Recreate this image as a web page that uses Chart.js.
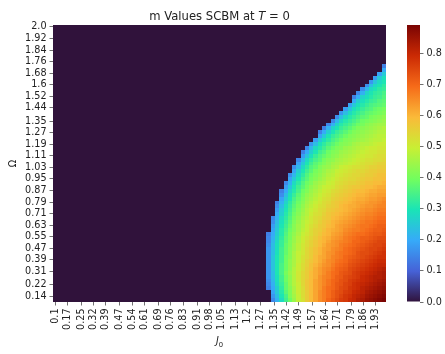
<!DOCTYPE html>
<html>
<head>
<meta charset="utf-8">
<script src="https://cdn.jsdelivr.net/npm/chart.js@4.4.1/dist/chart.umd.min.js"></script>
<style>
  body { margin: 0; background: #fff; }
  #wrap { position: relative; width: 445px; height: 354px; }
  #wrap canvas { position: absolute; top: 0; }
</style>
</head>
<body>
<div id="wrap">
  <canvas id="heatChart" width="445" height="354" style="left:0"></canvas>
  <canvas id="cbarChart" width="45" height="354" style="left:400px"></canvas>
</div>
<script>
// --- tick labels ---
const j0Ticks = ['0.1', '0.17', '0.25', '0.32', '0.39', '0.47', '0.54', '0.61', '0.69', '0.76', '0.83', '0.91', '0.98',
                 '1.05', '1.13', '1.2', '1.27', '1.35', '1.42', '1.49', '1.57', '1.64', '1.71', '1.79', '1.86', '1.93'];
const omegaTicks = ['2.0', '1.92', '1.84', '1.76', '1.68', '1.6', '1.52', '1.44', '1.35', '1.27', '1.19', '1.11',
                    '1.03', '0.95', '0.87', '0.79', '0.71', '0.63', '0.55', '0.47', '0.39', '0.31', '0.22', '0.14'];
const cbTicks = ['0.0', '0.1', '0.2', '0.3', '0.4', '0.5', '0.6', '0.7', '0.8'];

// grid extent (cell edges) in J0 and Omega: 78 x 71 cells
const j0Range = [0.0878, 1.9879];
const omegaRange = [0.0993, 2.0135];
const nCols = 78;

// m values, one row per Omega step from the top (Omega = 2.0) down.
// rowStart = first non-zero column, everything left of it is m = 0
const rowStart = [78, 78, 78, 78, 78, 78, 78, 78, 78, 78,
                  77, 77, 76, 75, 74, 73, 72, 71, 70, 70, 69, 68, 67, 66, 65, 64, 63, 62, 62, 61,
                  60, 59, 58, 58, 57, 57, 56, 56, 55, 55, 54, 54, 53, 53, 53, 52, 52, 52, 52, 51,
                  51, 51, 51, 50, 50, 50, 50, 50, 50, 50, 50, 50, 50, 50, 50, 50, 50, 50, 51, 51, 51];
const rowValues = [
  [], [], [], [], [], [], [], [], [], [],
  [0.14],
  [0.20],
  [0.19, 0.25],
  [0.18, 0.25, 0.29],
  [0.17, 0.24, 0.28, 0.30],
  [0.16, 0.23, 0.28, 0.30, 0.32],
  [0.16, 0.22, 0.28, 0.30, 0.32, 0.33],
  [0.15, 0.21, 0.27, 0.30, 0.32, 0.33, 0.35],
  [0.14, 0.20, 0.27, 0.29, 0.31, 0.33, 0.34, 0.36],
  [0.20, 0.26, 0.29, 0.31, 0.33, 0.34, 0.36, 0.37],
  [0.19, 0.25, 0.29, 0.31, 0.33, 0.35, 0.36, 0.37, 0.38],
  [0.18, 0.24, 0.29, 0.31, 0.33, 0.35, 0.36, 0.38, 0.39, 0.40],
  [0.17, 0.23, 0.28, 0.31, 0.33, 0.35, 0.37, 0.38, 0.39, 0.40, 0.41],
  [0.16, 0.23, 0.28, 0.31, 0.33, 0.35, 0.37, 0.38, 0.40, 0.41, 0.42, 0.43],
  [0.15, 0.22, 0.28, 0.31, 0.33, 0.35, 0.37, 0.39, 0.40, 0.41, 0.42, 0.43, 0.44],
  [0.15, 0.21, 0.27, 0.31, 0.33, 0.35, 0.37, 0.39, 0.40, 0.42, 0.43, 0.44, 0.45, 0.45],
  [0.14, 0.21, 0.27, 0.30, 0.33, 0.35, 0.37, 0.39, 0.41, 0.42, 0.43, 0.44, 0.45, 0.46, 0.47],
  [0.14, 0.20, 0.26, 0.30, 0.33, 0.35, 0.37, 0.39, 0.41, 0.42, 0.43, 0.44, 0.45, 0.46, 0.47, 0.47],
  [0.19, 0.25, 0.30, 0.33, 0.35, 0.37, 0.39, 0.41, 0.42, 0.43, 0.44, 0.45, 0.46, 0.47, 0.48, 0.48],
  [0.18, 0.25, 0.29, 0.32, 0.35, 0.37, 0.39, 0.41, 0.42, 0.43, 0.44, 0.45, 0.46, 0.47, 0.48, 0.48, 0.49],
  [0.17, 0.23, 0.29, 0.32, 0.35, 0.37, 0.39, 0.41, 0.42, 0.43, 0.45, 0.46, 0.47, 0.47, 0.48, 0.49, 0.50, 0.50],
  [0.15, 0.22, 0.28, 0.31, 0.34, 0.37, 0.39, 0.41, 0.42, 0.44, 0.45, 0.46, 0.47, 0.48, 0.49, 0.50, 0.50, 0.51, 0.51],
  [0.14, 0.20, 0.26, 0.30, 0.34, 0.36, 0.39, 0.41, 0.42, 0.44, 0.45, 0.46, 0.47, 0.48, 0.49, 0.50, 0.51, 0.51, 0.52, 0.52],
  [0.18, 0.24, 0.29, 0.33, 0.36, 0.38, 0.40, 0.42, 0.43, 0.45, 0.46, 0.47, 0.48, 0.49, 0.50, 0.51, 0.51, 0.52, 0.53, 0.53],
  [0.15, 0.22, 0.28, 0.32, 0.35, 0.37, 0.40, 0.42, 0.43, 0.45, 0.46, 0.47, 0.48, 0.49, 0.50, 0.51, 0.52, 0.52, 0.53, 0.53, 0.54],
  [0.19, 0.25, 0.30, 0.34, 0.37, 0.39, 0.41, 0.43, 0.45, 0.46, 0.47, 0.48, 0.49, 0.50, 0.51, 0.52, 0.53, 0.53, 0.54, 0.55, 0.55],
  [0.16, 0.22, 0.28, 0.32, 0.36, 0.38, 0.41, 0.43, 0.44, 0.46, 0.47, 0.49, 0.50, 0.51, 0.52, 0.52, 0.53, 0.54, 0.55, 0.55, 0.56, 0.56],
  [0.19, 0.26, 0.30, 0.34, 0.37, 0.40, 0.42, 0.44, 0.46, 0.47, 0.49, 0.50, 0.51, 0.52, 0.53, 0.54, 0.54, 0.55, 0.56, 0.56, 0.57, 0.57],
  [0.16, 0.22, 0.28, 0.32, 0.36, 0.39, 0.41, 0.43, 0.45, 0.47, 0.48, 0.50, 0.51, 0.52, 0.53, 0.54, 0.54, 0.55, 0.56, 0.56, 0.57, 0.58, 0.58],
  [0.19, 0.25, 0.30, 0.34, 0.37, 0.40, 0.42, 0.44, 0.46, 0.48, 0.49, 0.51, 0.52, 0.53, 0.54, 0.54, 0.55, 0.56, 0.57, 0.57, 0.58, 0.58, 0.59],
  [0.15, 0.21, 0.28, 0.32, 0.36, 0.39, 0.41, 0.44, 0.46, 0.47, 0.49, 0.50, 0.52, 0.53, 0.54, 0.55, 0.55, 0.56, 0.57, 0.58, 0.58, 0.59, 0.59, 0.60],
  [0.18, 0.24, 0.30, 0.34, 0.37, 0.40, 0.43, 0.45, 0.47, 0.49, 0.50, 0.51, 0.53, 0.54, 0.55, 0.56, 0.57, 0.57, 0.58, 0.59, 0.59, 0.60, 0.61, 0.61],
  [0.14, 0.20, 0.27, 0.31, 0.35, 0.39, 0.41, 0.44, 0.46, 0.48, 0.50, 0.51, 0.53, 0.54, 0.55, 0.56, 0.57, 0.58, 0.59, 0.59, 0.60, 0.61, 0.61, 0.62, 0.62],
  [0.16, 0.23, 0.29, 0.33, 0.37, 0.40, 0.43, 0.45, 0.47, 0.49, 0.51, 0.52, 0.54, 0.55, 0.56, 0.57, 0.58, 0.59, 0.60, 0.60, 0.61, 0.62, 0.62, 0.63, 0.63],
  [0.19, 0.25, 0.30, 0.35, 0.38, 0.41, 0.44, 0.46, 0.48, 0.50, 0.52, 0.53, 0.55, 0.56, 0.57, 0.58, 0.59, 0.60, 0.61, 0.61, 0.62, 0.63, 0.63, 0.64, 0.65],
  [0.14, 0.21, 0.27, 0.32, 0.36, 0.39, 0.42, 0.45, 0.47, 0.49, 0.51, 0.53, 0.54, 0.56, 0.57, 0.58, 0.59, 0.60, 0.61, 0.62, 0.62, 0.63, 0.64, 0.64, 0.65, 0.66],
  [0.16, 0.23, 0.29, 0.33, 0.37, 0.40, 0.43, 0.46, 0.48, 0.50, 0.52, 0.53, 0.55, 0.56, 0.57, 0.59, 0.60, 0.61, 0.61, 0.62, 0.63, 0.64, 0.64, 0.65, 0.66, 0.66],
  [0.18, 0.25, 0.30, 0.34, 0.38, 0.41, 0.44, 0.47, 0.49, 0.51, 0.53, 0.54, 0.56, 0.57, 0.58, 0.59, 0.60, 0.61, 0.62, 0.63, 0.64, 0.65, 0.65, 0.66, 0.67, 0.67],
  [0.20, 0.26, 0.31, 0.35, 0.39, 0.42, 0.45, 0.47, 0.50, 0.52, 0.53, 0.55, 0.57, 0.58, 0.59, 0.60, 0.61, 0.62, 0.63, 0.64, 0.65, 0.66, 0.66, 0.67, 0.68, 0.68],
  [0.15, 0.21, 0.28, 0.32, 0.36, 0.40, 0.43, 0.46, 0.48, 0.51, 0.53, 0.54, 0.56, 0.57, 0.59, 0.60, 0.61, 0.62, 0.63, 0.64, 0.65, 0.66, 0.67, 0.67, 0.68, 0.69, 0.69],
  [0.16, 0.23, 0.29, 0.33, 0.37, 0.41, 0.44, 0.47, 0.49, 0.51, 0.53, 0.55, 0.57, 0.58, 0.60, 0.61, 0.62, 0.63, 0.64, 0.65, 0.66, 0.67, 0.68, 0.68, 0.69, 0.70, 0.70],
  [0.18, 0.24, 0.30, 0.34, 0.38, 0.42, 0.45, 0.47, 0.50, 0.52, 0.54, 0.56, 0.57, 0.59, 0.60, 0.62, 0.63, 0.64, 0.65, 0.66, 0.67, 0.68, 0.68, 0.69, 0.70, 0.71, 0.71],
  [0.19, 0.25, 0.31, 0.35, 0.39, 0.42, 0.45, 0.48, 0.50, 0.53, 0.55, 0.56, 0.58, 0.60, 0.61, 0.62, 0.63, 0.65, 0.66, 0.67, 0.67, 0.68, 0.69, 0.70, 0.71, 0.71, 0.72],
  [0.14, 0.20, 0.26, 0.31, 0.36, 0.40, 0.43, 0.46, 0.49, 0.51, 0.53, 0.55, 0.57, 0.59, 0.60, 0.62, 0.63, 0.64, 0.66, 0.67, 0.68, 0.69, 0.69, 0.70, 0.71, 0.72, 0.72, 0.73],
  [0.15, 0.21, 0.27, 0.32, 0.37, 0.40, 0.44, 0.47, 0.50, 0.52, 0.54, 0.56, 0.58, 0.60, 0.61, 0.63, 0.64, 0.65, 0.67, 0.68, 0.69, 0.70, 0.71, 0.71, 0.72, 0.73, 0.74, 0.74],
  [0.15, 0.22, 0.28, 0.33, 0.37, 0.41, 0.44, 0.47, 0.50, 0.53, 0.55, 0.57, 0.59, 0.60, 0.62, 0.64, 0.65, 0.66, 0.67, 0.68, 0.70, 0.70, 0.71, 0.72, 0.73, 0.74, 0.75, 0.75],
  [0.16, 0.23, 0.29, 0.33, 0.38, 0.41, 0.45, 0.48, 0.51, 0.53, 0.55, 0.57, 0.59, 0.61, 0.63, 0.64, 0.65, 0.67, 0.68, 0.69, 0.70, 0.71, 0.72, 0.73, 0.74, 0.75, 0.75, 0.76],
  [0.17, 0.23, 0.29, 0.34, 0.38, 0.42, 0.45, 0.48, 0.51, 0.54, 0.56, 0.58, 0.60, 0.62, 0.63, 0.65, 0.66, 0.67, 0.69, 0.70, 0.71, 0.72, 0.73, 0.74, 0.75, 0.75, 0.76, 0.77],
  [0.17, 0.23, 0.29, 0.34, 0.38, 0.42, 0.46, 0.49, 0.51, 0.54, 0.56, 0.58, 0.60, 0.62, 0.64, 0.65, 0.67, 0.68, 0.69, 0.70, 0.71, 0.73, 0.74, 0.74, 0.75, 0.76, 0.77, 0.78],
  [0.17, 0.24, 0.30, 0.34, 0.39, 0.42, 0.46, 0.49, 0.52, 0.54, 0.56, 0.59, 0.61, 0.62, 0.64, 0.66, 0.67, 0.68, 0.70, 0.71, 0.72, 0.73, 0.74, 0.75, 0.76, 0.77, 0.78, 0.78],
  [0.17, 0.24, 0.30, 0.34, 0.39, 0.43, 0.46, 0.49, 0.52, 0.55, 0.57, 0.59, 0.61, 0.63, 0.65, 0.66, 0.68, 0.69, 0.70, 0.72, 0.73, 0.74, 0.75, 0.76, 0.77, 0.78, 0.79, 0.79],
  [0.17, 0.24, 0.30, 0.35, 0.39, 0.43, 0.46, 0.50, 0.53, 0.55, 0.58, 0.60, 0.62, 0.64, 0.65, 0.67, 0.69, 0.70, 0.71, 0.73, 0.74, 0.75, 0.76, 0.77, 0.78, 0.79, 0.80, 0.80],
  [0.17, 0.24, 0.30, 0.35, 0.39, 0.43, 0.47, 0.50, 0.53, 0.56, 0.58, 0.61, 0.63, 0.65, 0.66, 0.68, 0.70, 0.71, 0.72, 0.74, 0.75, 0.76, 0.77, 0.78, 0.79, 0.80, 0.81, 0.82],
  [0.17, 0.23, 0.30, 0.35, 0.40, 0.44, 0.47, 0.51, 0.54, 0.56, 0.59, 0.61, 0.63, 0.65, 0.67, 0.69, 0.70, 0.72, 0.73, 0.74, 0.76, 0.77, 0.78, 0.79, 0.80, 0.81, 0.82, 0.83],
  [0.17, 0.23, 0.29, 0.34, 0.39, 0.43, 0.47, 0.51, 0.54, 0.56, 0.59, 0.61, 0.64, 0.66, 0.67, 0.69, 0.71, 0.72, 0.74, 0.75, 0.76, 0.77, 0.79, 0.80, 0.81, 0.82, 0.82, 0.83],
  [0.16, 0.22, 0.29, 0.34, 0.39, 0.43, 0.47, 0.51, 0.54, 0.57, 0.59, 0.62, 0.64, 0.66, 0.68, 0.70, 0.71, 0.73, 0.74, 0.76, 0.77, 0.78, 0.79, 0.80, 0.81, 0.82, 0.83, 0.84],
  [0.15, 0.21, 0.28, 0.33, 0.38, 0.43, 0.47, 0.50, 0.54, 0.57, 0.59, 0.62, 0.64, 0.66, 0.68, 0.70, 0.72, 0.73, 0.75, 0.76, 0.78, 0.79, 0.80, 0.81, 0.82, 0.83, 0.84, 0.85],
  [0.14, 0.20, 0.26, 0.32, 0.38, 0.42, 0.46, 0.50, 0.53, 0.57, 0.59, 0.62, 0.64, 0.67, 0.69, 0.70, 0.72, 0.74, 0.75, 0.77, 0.78, 0.79, 0.81, 0.82, 0.83, 0.84, 0.85, 0.86],
  [0.19, 0.25, 0.31, 0.37, 0.41, 0.46, 0.50, 0.53, 0.56, 0.59, 0.62, 0.65, 0.67, 0.69, 0.71, 0.73, 0.74, 0.76, 0.77, 0.79, 0.80, 0.81, 0.83, 0.84, 0.85, 0.86, 0.87],
  [0.17, 0.23, 0.30, 0.35, 0.41, 0.45, 0.49, 0.53, 0.56, 0.59, 0.62, 0.65, 0.67, 0.69, 0.71, 0.73, 0.75, 0.77, 0.78, 0.80, 0.81, 0.82, 0.84, 0.85, 0.86, 0.87, 0.88],
  [0.15, 0.21, 0.28, 0.34, 0.39, 0.44, 0.49, 0.52, 0.56, 0.59, 0.62, 0.65, 0.67, 0.70, 0.72, 0.74, 0.76, 0.77, 0.79, 0.80, 0.82, 0.83, 0.85, 0.86, 0.87, 0.88, 0.89]
];

// full matrix, zeros filled in on the left
const grid = rowStart.map((s, r) => {
  const row = new Array(nCols).fill(0);
  rowValues[r].forEach((v, i) => { if (s + i < nCols) row[s + i] = v; });
  return row;
});
const vMax = Math.max(...grid.flat());

// turbo colormap
const turboStops = ['#30123b', '#4662d7', '#36aaf9', '#1ae4b6', '#72fe5e', '#c8ef34', '#faba39', '#f66b19', '#cb2a04', '#7a0403'];
const stopRgb = turboStops.map(h => [1, 3, 5].map(i => parseInt(h.substr(i, 2), 16)));
function turbo(t) {
  t = Math.min(1, Math.max(0, t)) * (stopRgb.length - 1);
  const i = Math.min(Math.floor(t), stopRgb.length - 2);
  const f = t - i;
  const c = stopRgb[i].map((a, k) => Math.round(a + (stopRgb[i + 1][k] - a) * f));
  return `rgb(${c[0]},${c[1]},${c[2]})`;
}

Chart.defaults.font.family = '"DejaVu Sans", sans-serif';
Chart.defaults.color = '#222';
const tickFont = { size: 9.65 };

// paints the cells through the chart's x/y scales
const heatmap = {
  id: 'heatmap',
  beforeDatasetsDraw(chart) {
    const { ctx, scales: { x, y } } = chart;
    const dj = (j0Range[1] - j0Range[0]) / nCols;
    const dw = (omegaRange[1] - omegaRange[0]) / grid.length;
    ctx.save();
    grid.forEach((row, r) => {
      const top = Math.round(y.getPixelForValue(omegaRange[1] - r * dw));
      const bot = Math.round(y.getPixelForValue(omegaRange[1] - (r + 1) * dw));
      row.forEach((v, c) => {
        const left = Math.round(x.getPixelForValue(j0Range[0] + c * dj));
        const right = Math.round(x.getPixelForValue(j0Range[0] + (c + 1) * dj));
        ctx.fillStyle = turbo(v / vMax);
        ctx.fillRect(left, top, right - left, bot - top);
      });
    });
    ctx.restore();
  }
};

// title with italic T, and the J0 axis label
const chartTitle = ['m Values SCBM at ', 'T', ' = 0'];
const xLabel = ['J', '0'];
const titles = {
  id: 'titles',
  afterDraw(chart) {
    const { ctx, chartArea } = chart;
    const cx = (chartArea.left + chartArea.right) / 2;
    const fam = '"DejaVu Sans", sans-serif';
    ctx.save();
    ctx.fillStyle = '#222';
    ctx.textBaseline = 'alphabetic';
    ctx.textAlign = 'left';

    const fonts = [`11.6px ${fam}`, `italic 11.6px ${fam}`, `11.6px ${fam}`];
    const widths = chartTitle.map((s, i) => { ctx.font = fonts[i]; return ctx.measureText(s).width; });
    let xPos = cx - widths.reduce((a, b) => a + b, 0) / 2;
    chartTitle.forEach((s, i) => {
      ctx.font = fonts[i];
      ctx.fillText(s, xPos, 19.5);
      xPos += widths[i];
    });

    ctx.font = `italic 9.65px ${fam}`;
    const wJ = ctx.measureText(xLabel[0]).width;
    ctx.font = `6.8px ${fam}`;
    const w0 = ctx.measureText(xLabel[1]).width;
    xPos = cx - (wJ + w0) / 2;
    ctx.font = `italic 9.65px ${fam}`;
    ctx.fillText(xLabel[0], xPos, 344);
    ctx.font = `6.8px ${fam}`;
    ctx.fillText(xLabel[1], xPos + wJ, 346.5);
    ctx.restore();
  }
};

const tickGrid = { drawOnChartArea: false, tickLength: 3.5, tickWidth: 0.7, tickColor: '#333' };

new Chart(document.getElementById('heatChart'), {
  type: 'scatter',
  data: { datasets: [{ data: [] }] },
  options: {
    responsive: false,
    animation: false,
    layout: { padding: { left: 6, right: 59, top: 25, bottom: 0 } },
    plugins: { legend: { display: false }, tooltip: { enabled: false } },
    scales: {
      x: {
        type: 'linear',
        min: j0Range[0],
        max: j0Range[1],
        afterBuildTicks: s => { s.ticks = j0Ticks.map(t => ({ value: parseFloat(t) })); },
        afterFit: s => { s.height = 52; },
        ticks: { autoSkip: false, minRotation: 90, maxRotation: 90, padding: 3, font: tickFont,
                 callback: (v, i) => j0Ticks[i] },
        grid: tickGrid,
        border: { display: false }
      },
      y: {
        type: 'linear',
        min: omegaRange[0],
        max: omegaRange[1],
        afterBuildTicks: s => { s.ticks = omegaTicks.map(t => ({ value: parseFloat(t) })); },
        afterFit: s => { s.width = 47; },
        ticks: { autoSkip: false, padding: 3, font: tickFont, callback: (v, i) => omegaTicks[i] },
        grid: tickGrid,
        border: { display: false },
        title: { display: true, text: 'Ω', font: { size: 9.65 }, padding: { top: 2, bottom: 0 } }
      }
    }
  },
  plugins: [heatmap, titles]
});

// colorbar: a single floating bar filled with the colormap
function cbarGradient(c) {
  const { chart } = c;
  if (!chart.chartArea) return null;
  const y = chart.scales.y;
  const g = chart.ctx.createLinearGradient(0, y.getPixelForValue(0), 0, y.getPixelForValue(vMax));
  turboStops.forEach((col, i) => g.addColorStop(i / (turboStops.length - 1), col));
  return g;
}

new Chart(document.getElementById('cbarChart'), {
  type: 'bar',
  data: {
    labels: [''],
    datasets: [{ data: [[0, vMax]], backgroundColor: cbarGradient, borderWidth: 0,
                 barPercentage: 1, categoryPercentage: 1, inflateAmount: 0 }]
  },
  options: {
    responsive: false,
    animation: false,
    layout: { padding: { left: 7, right: 0, top: 25, bottom: 52 } },
    plugins: { legend: { display: false }, tooltip: { enabled: false } },
    scales: {
      x: { display: false },
      y: {
        position: 'right',
        min: 0,
        max: vMax,
        afterBuildTicks: s => { s.ticks = cbTicks.map(t => ({ value: parseFloat(t) })); },
        afterFit: s => { s.width = 25; },
        ticks: { padding: 3, font: tickFont, callback: (v, i) => cbTicks[i] },
        grid: tickGrid,
        border: { display: false }
      }
    }
  }
});
</script>
</body>
</html>
